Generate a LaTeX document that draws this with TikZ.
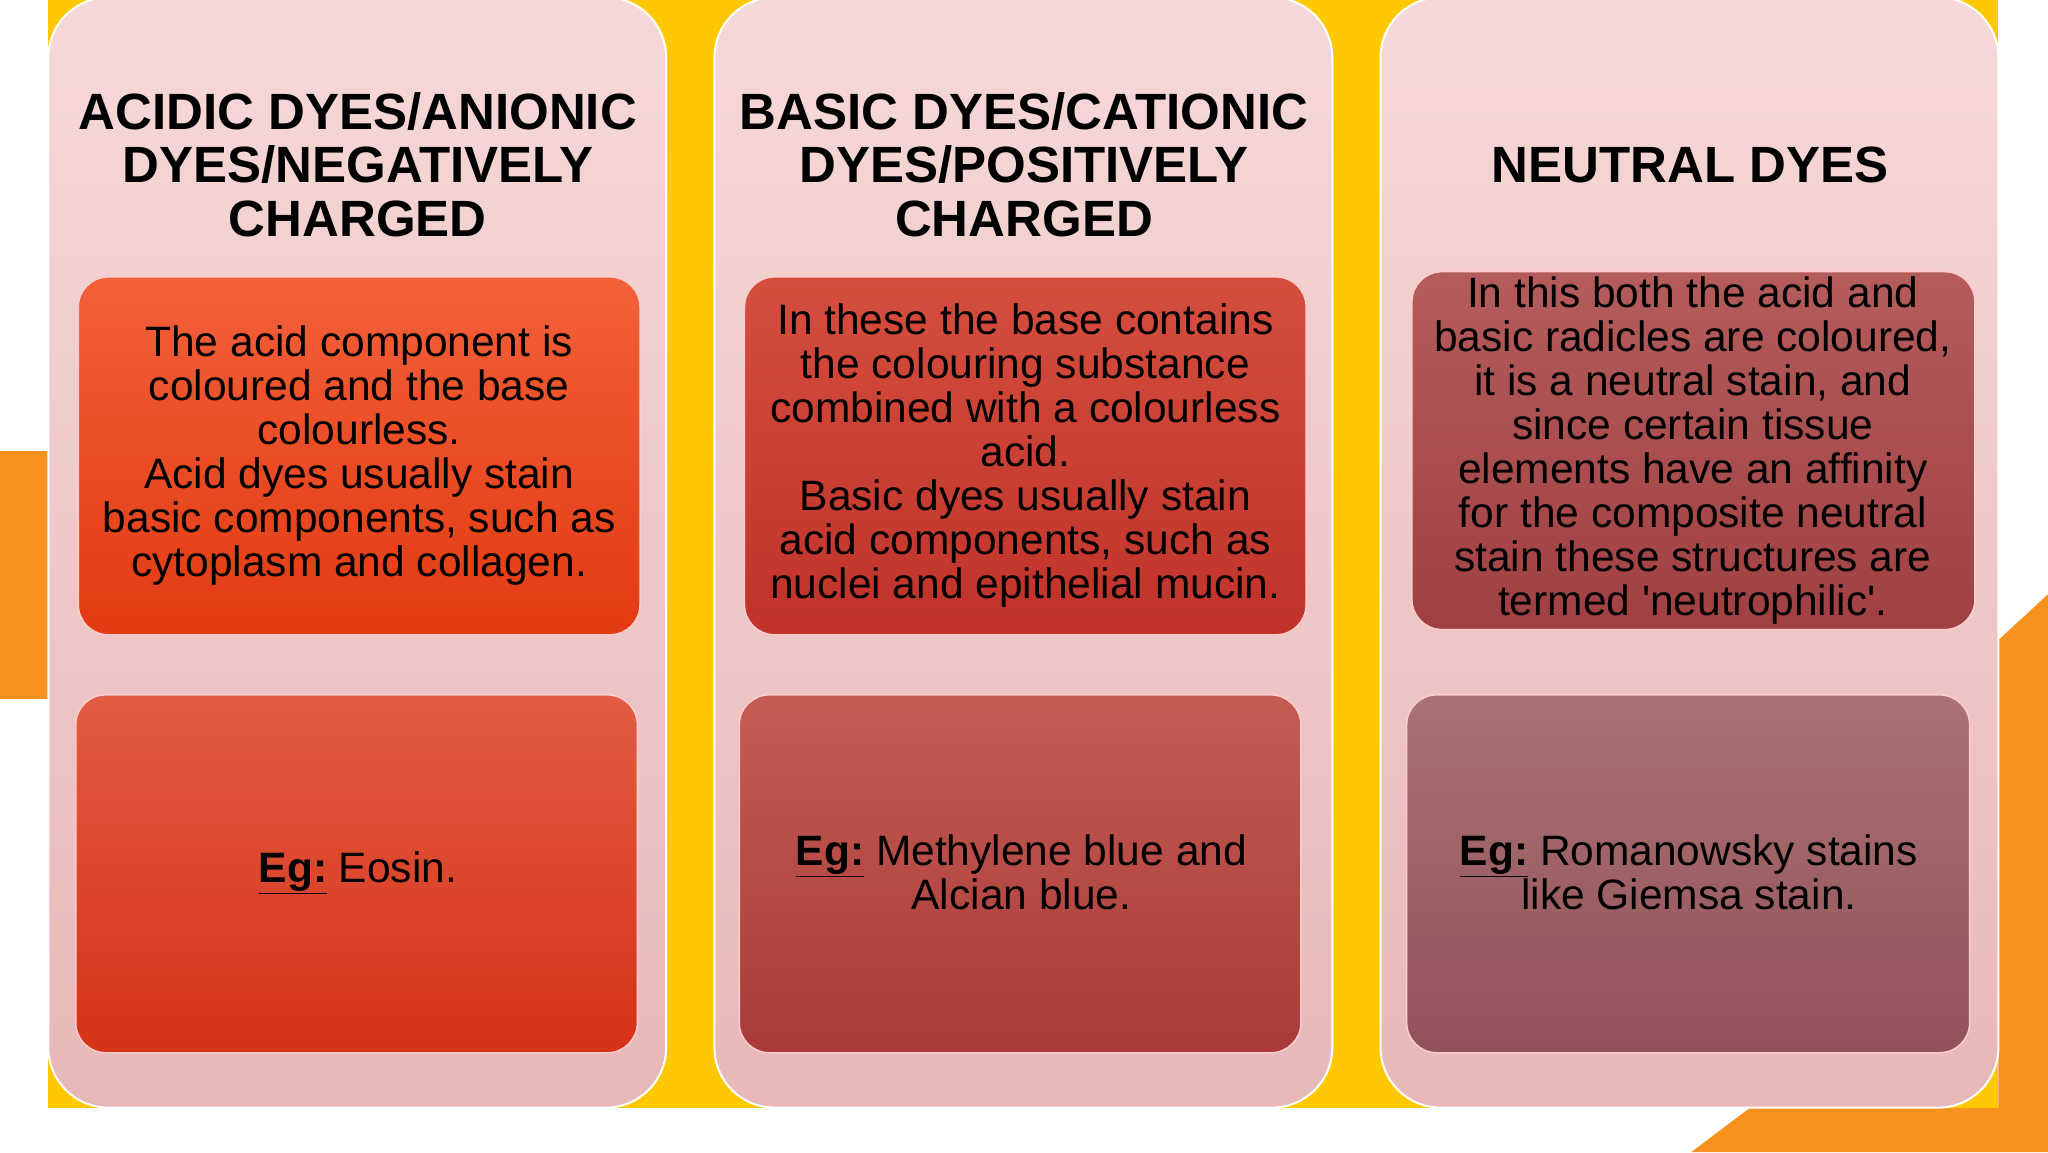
\documentclass[tikz,border=0pt]{standalone}
\usepackage{fontspec}
\setmainfont{Liberation Sans}
\newcommand{\sq}{\XeTeXglyph\XeTeXcharglyph"27\relax}
\begin{document}
\begin{tikzpicture}[x=1.30612pt,y=-1.30612pt,
  panel/.style={draw=white,line width=2pt,rounded corners=60pt,top color=pinkA,bottom color=pinkB},
  box/.style={draw=white!80!red,line width=1.5pt,rounded corners=30pt},
  ttl/.style={font=\fontsize{51}{53.5}\selectfont\bfseries,align=center,text=black},
  txt/.style={font=\fontsize{42.5}{44}\selectfont,align=center,text=black}]
\definecolor{pinkA}{HTML}{F6D8D8}\definecolor{pinkB}{HTML}{E8B8B8}
\definecolor{yel}{HTML}{FFC800}\definecolor{org}{HTML}{F7921E}
\useasboundingbox (0,0) rectangle (1568,882);
\fill[white] (0,0) rectangle (1568,882);
\fill[org] (0,345) rectangle (40,535);
\fill[org] (1568,455) -- (1568,882) -- (1295,882) -- (1340,848) -- (1530,848) -- (1530,490) -- cycle;
\fill[yel] (37,0) rectangle (1530,848);
\foreach \x in {37,547,1057}{\path[panel] (\x,-2) rectangle ++(473,850);}
% column 1
\path[box,top color={rgb,255:red,242;green,96;blue,58},bottom color={rgb,255:red,226;green,58;blue,18}] (60,212) rectangle (490,486);
\path[box,top color={rgb,255:red,226;green,92;blue,66},bottom color={rgb,255:red,214;green,50;blue,24}] (58,532) rectangle (488,806);
% column 2
\path[box,top color={rgb,255:red,212;green,78;blue,62},bottom color={rgb,255:red,192;green,50;blue,42}] (570,212) rectangle (1000,486);
\path[box,top color={rgb,255:red,196;green,92;blue,82},bottom color={rgb,255:red,170;green,58;blue,58}] (566,532) rectangle (996,806);
% column 3
\path[box,top color={rgb,255:red,180;green,92;blue,92},bottom color={rgb,255:red,160;green,64;blue,66}] (1081,208) rectangle (1512,482);
\path[box,top color={rgb,255:red,170;green,114;blue,114},bottom color={rgb,255:red,146;green,82;blue,90}] (1077,532) rectangle (1508,806);
% titles
\node[ttl] (t1) at (274,126) {ACIDIC DYES/ANIONIC\\DYES/NEGATIVELY\\CHARGED};
\node[ttl] (t2) at (784,126) {BASIC DYES/CATIONIC\\DYES/POSITIVELY\\CHARGED};
\node[ttl] (t3) at (1294,126) {NEUTRAL DYES};
% texts
\node[txt] (a1) at (275,349) {The acid component is\\coloured and the base\\colourless.\\Acid dyes usually stain\\basic components, such as\\cytoplasm and collagen.};
\node[txt] (a2) at (785,349) {In these the base contains\\the colouring substance\\combined with a colourless\\acid.\\Basic dyes usually stain\\acid components, such as\\nuclei and epithelial mucin.};
\node[txt] (a3) at (1296,345) {In this both the acid and\\basic radicles are coloured,\\it is a neutral stain, and\\since certain tissue\\elements have an affinity\\for the composite neutral\\stain these structures are\\termed \sq neutrophilic\sq .};
\node[txt] (b1) at (274,668) {\textbf{\underline{Eg:}} Eosin.};
\node[txt] (b2) at (782,668) {\textbf{\underline{Eg:}} Methylene blue and\\Alcian blue.};
\node[txt] (b3) at (1293,668) {\textbf{\underline{Eg:}} Romanowsky stains\\like Giemsa stain.};
\end{tikzpicture}
\end{document}
